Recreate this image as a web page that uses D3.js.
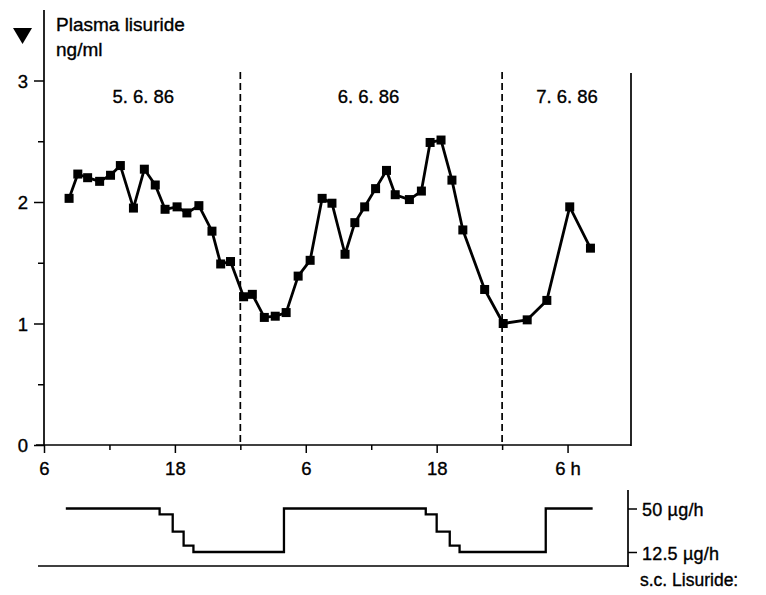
<!DOCTYPE html>
<html><head><meta charset="utf-8">
<script src="https://cdn.jsdelivr.net/npm/d3@7"></script>
<style>body{margin:0;background:#fff}svg{display:block}text{font-family:"Liberation Sans",Arial,Helvetica,sans-serif;fill:#000;stroke:#000;stroke-width:0.35px}</style>
</head><body><svg id="c" width="766" height="595"></svg>
<script>
// Plasma lisuride samples: time (hours from 0:00 on 5.6.86) and concentration (ng/ml)
const sampleHours = [8.3,9.1,10.0,11.1,12.1,13.0,14.2,15.2,16.2,17.1,18.2,19.1,20.2,21.4,22.2,23.1,24.3,25.1,26.2,27.2,28.2,29.3,30.4,31.5,32.4,33.6,34.5,35.4,36.4,37.4,38.2,39.5,40.6,41.4,42.4,43.4,44.4,46.4,48.1,50.3,52.1,54.2,56.1];
const plasmaValues = [2.03,2.23,2.20,2.17,2.22,2.30,1.95,2.27,2.14,1.94,1.96,1.91,1.97,1.76,1.49,1.51,1.22,1.24,1.05,1.06,1.09,1.39,1.52,2.03,1.99,1.57,1.83,1.96,2.11,2.26,2.06,2.02,2.09,2.49,2.51,2.18,1.77,1.28,1.00,1.03,1.19,1.96,1.62];
const xTickHours = [6,12,18,24,30,36,42,48,54];
const xTickLabels = ["6","","18","","6","","18","","6 h"];
const yTicks = [0,0.5,1,1.5,2,2.5,3];
const yTickLabels = ["0","","1","","2","","3"];
const midnights = [24,48];
const dayLabels = ["5. 6. 86","6. 6. 86","7. 6. 86"];
const dayLabelHours = [15.1,35.75,53.95];
// s.c. lisuride infusion rate steps (µg/h): start hour of each step and dose
const doseStartHours = [8,16.6,17.8,18.8,19.7,28,41,42,43.2,44.1,52,56.3];
const doseValues = [50,45,30,18,12.5,50,45,30,18,12.5,50,50];
const doseTicks = [50,12.5];
const doseTickLabels = ["50 µg/h","12.5 µg/h"];

const svg = d3.select("#c");
const x = d3.scaleLinear().domain([6,60]).range([44,633]);
const y = d3.scaleLinear().domain([0,3]).range([445,80.5]);
const yd = d3.scaleLinear().domain([12.5,50]).range([552,508.5]);
const fs = 18.5;

// y axis
const gy = svg.append("g").attr("transform","translate(44,0)")
  .call(d3.axisLeft(y).tickValues(yTicks).tickSize(10).tickFormat((d,i)=>yTickLabels[i]));
gy.select(".domain").remove();
gy.selectAll(".tick line").attr("stroke","#000").attr("stroke-width",1.5)
  .attr("x2",(d,i)=>yTickLabels[i]===""?-6:-10);
gy.selectAll(".tick text").attr("font-size",fs).attr("x",-16).attr("dy","0.36em");
svg.append("line").attr("x1",44).attr("x2",44).attr("y1",10).attr("y2",446).attr("stroke","#000").attr("stroke-width",1.7);
// right border
svg.append("line").attr("x1",631).attr("x2",631).attr("y1",73).attr("y2",446).attr("stroke","#000").attr("stroke-width",1.7);

// x axis
const gx = svg.append("g").attr("transform","translate(0,445)")
  .call(d3.axisBottom(x).tickValues(xTickHours).tickSize(8).tickFormat((d,i)=>xTickLabels[i]));
gx.select(".domain").remove();
gx.selectAll(".tick line").attr("stroke","#000").attr("stroke-width",1.5)
  .attr("y2",(d,i)=>xTickLabels[i]===""?5:8);
gx.selectAll(".tick text").attr("font-size",fs).attr("y",17).attr("dy","0.71em");
svg.append("line").attr("x1",36).attr("x2",631).attr("y1",445).attr("y2",445).attr("stroke","#000").attr("stroke-width",1.7);

// midnight dashed lines
svg.selectAll(".mid").data(midnights).enter().append("line")
  .attr("x1",d=>x(d)).attr("x2",d=>x(d)).attr("y1",72).attr("y2",442)
  .attr("stroke","#000").attr("stroke-width",1.7).attr("stroke-dasharray","7,4");

// day labels
svg.selectAll(".day").data(dayLabels).enter().append("text")
  .attr("x",(d,i)=>x(dayLabelHours[i])).attr("y",103).attr("text-anchor","middle")
  .attr("font-size",fs).text(d=>d);

// title
svg.append("text").attr("x",56).attr("y",31).attr("font-size",19).text("Plasma lisuride");
svg.append("text").attr("x",56).attr("y",56).attr("font-size",19).text("ng/ml");
svg.append("path").attr("d","M13,28 L32,28 L22.5,44 Z").attr("fill","#000");

// plasma line
const pts = sampleHours.map((h,i)=>[h,plasmaValues[i]]);
svg.append("path").datum(pts)
  .attr("d",d3.line().x(d=>x(d[0])).y(d=>y(d[1])))
  .attr("fill","none").attr("stroke","#000").attr("stroke-width",2.8).attr("stroke-linejoin","round");
svg.selectAll(".pt").data(pts).enter().append("rect")
  .attr("x",d=>x(d[0])-4.5).attr("y",d=>y(d[1])-4.5).attr("width",9).attr("height",9).attr("fill","#000");

// bottom panel
const steps = doseStartHours.map((h,i)=>[h,doseValues[i]]);
svg.append("path").datum(steps)
  .attr("d",d3.line().curve(d3.curveStepAfter).x(d=>x(d[0])).y(d=>yd(d[1])))
  .attr("fill","none").attr("stroke","#000").attr("stroke-width",2.3);
svg.append("line").attr("x1",38).attr("x2",629).attr("y1",566).attr("y2",566).attr("stroke","#000").attr("stroke-width",1.7);
svg.append("line").attr("x1",628).attr("x2",628).attr("y1",490).attr("y2",567).attr("stroke","#000").attr("stroke-width",1.7);
const gd = svg.append("g").attr("transform","translate(628,0)")
  .call(d3.axisRight(yd).tickValues(doseTicks).tickSize(9).tickFormat((d,i)=>doseTickLabels[i]));
gd.select(".domain").remove();
gd.selectAll(".tick line").attr("stroke","#000").attr("stroke-width",1.5);
gd.selectAll(".tick text").attr("font-size",18).attr("x",14).attr("dy","0.4em").attr("letter-spacing",0.2);
svg.append("text").attr("x",640).attr("y",586).attr("font-size",17.5).text("s.c. Lisuride:");
</script></body></html>
